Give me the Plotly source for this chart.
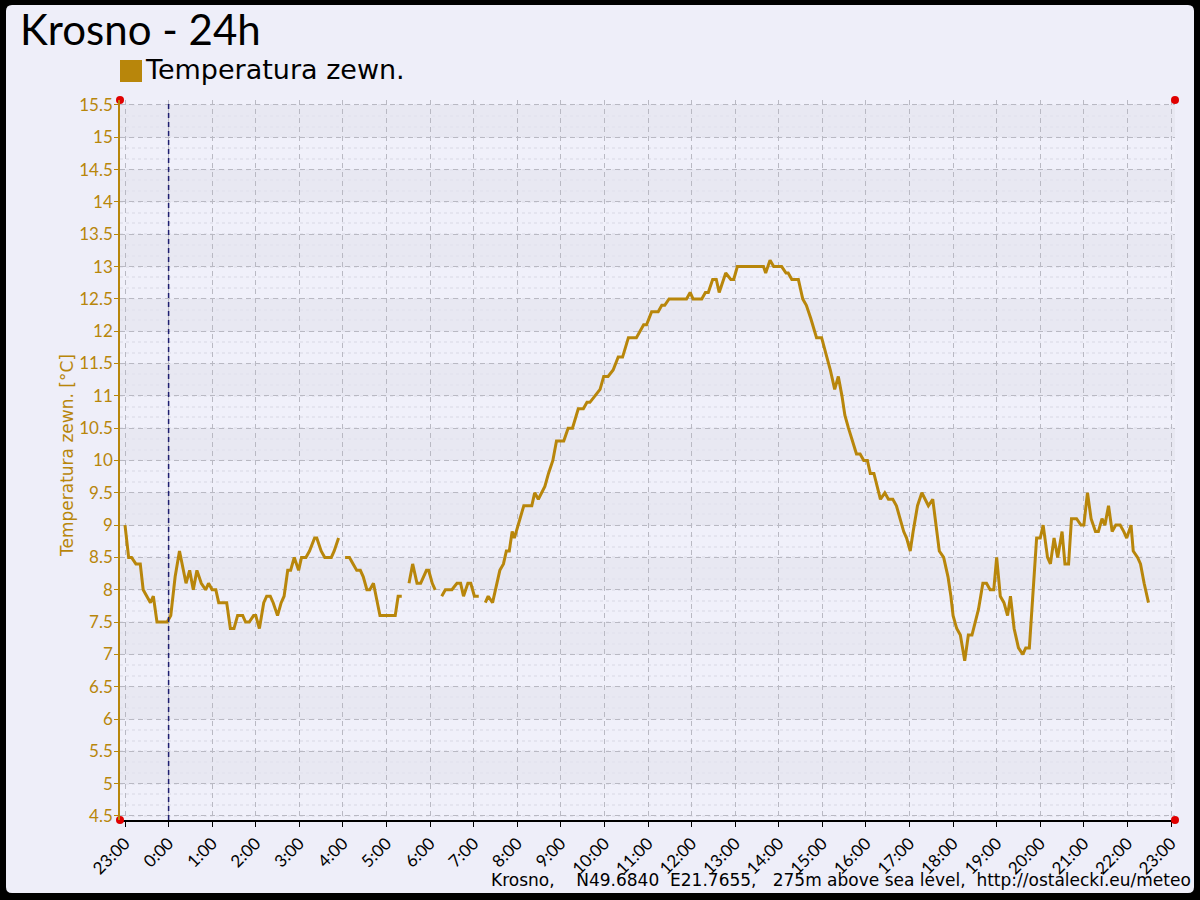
import plotly.graph_objects as go
from datetime import datetime, timedelta

TITLE = "Krosno - 24h"
SERIES_NAME = "Temperatura zewn."
Y_TITLE = "Temperatura zewn. [°C]"
FOOTER = "Krosno,    N49.6840  E21.7655,   275m above sea level,  http://ostalecki.eu/meteo"

# readings: clock time and outside temperature (None = missing data / gap)
times = [
    "23:00", "23:05", "23:09", "23:15", "23:21", "23:25", "23:30", "23:35", "23:39", "23:44",
    "23:58", "0:03", "0:09", "0:15", "0:24", "0:29", "0:34", "0:39", "0:45", "0:51",
    "0:55", "1:00", "1:05", "1:09", "1:20", "1:25", "1:30", "1:35", "1:42", "1:46",
    "1:51", "1:57", "2:00", "2:05", "2:11", "2:15", "2:20", "2:24", "2:30", "2:35",
    "2:39", "2:44", "2:48", "2:53", "2:59", "3:03", "3:09", "3:14", "3:21", "3:24",
    "3:30", "3:35", "3:44", "3:48", "3:54", "3:58", "4:03", "4:09", "4:14", "4:19",
    "4:24", "4:28", "4:33", "4:37", "4:42", "4:51", "5:12", "5:16", "5:21", "5:26",
    "5:31", "5:36", "5:42", "5:47", "5:55", "5:58", "6:03", "6:07", "6:12", "6:16",
    "6:21", "6:30", "6:37", "6:42", "6:46", "6:52", "6:56", "7:01", "7:07", "7:12",
    "7:16", "7:20", "7:26", "7:32", "7:36", "7:41", "7:45", "7:49", "7:53", "7:56",
    "8:04", "8:09", "8:20", "8:24", "8:29", "8:38", "8:43", "8:49", "8:54", "9:04",
    "9:10", "9:16", "9:24", "9:31", "9:36", "9:40", "9:47", "9:54", "9:59", "10:05",
    "10:12", "10:19", "10:25", "10:33", "10:44", "10:54", "10:58", "11:05", "11:14", "11:19",
    "11:23", "11:29", "11:53", "11:58", "12:02", "12:14", "12:19", "12:23", "12:29", "12:34",
    "12:38", "12:47", "12:54", "12:58", "13:03", "13:39", "13:42", "13:48", "13:53", "14:04",
    "14:10", "14:13", "14:18", "14:27", "14:33", "14:38", "14:44", "14:52", "14:59", "15:04",
    "15:11", "15:17", "15:22", "15:27", "15:31", "15:36", "15:42", "15:47", "15:52", "15:57",
    "16:02", "16:06", "16:11", "16:16", "16:20", "16:26", "16:31", "16:37", "16:42", "16:47",
    "16:52", "16:56", "17:01", "17:05", "17:11", "17:17", "17:21", "17:26", "17:32", "17:35",
    "17:41", "17:47", "17:53", "17:57", "18:00", "18:05", "18:10", "18:16", "18:21", "18:26",
    "18:30", "18:35", "18:41", "18:46", "18:51", "18:56", "19:00", "19:05", "19:10", "19:15",
    "19:19", "19:24", "19:30", "19:36", "19:40", "19:45", "19:55", "20:00", "20:04", "20:10",
    "20:14", "20:19", "20:24", "20:30", "20:34", "20:39", "20:43", "20:50", "20:56", "21:00",
    "21:05", "21:10", "21:16", "21:20", "21:25", "21:29", "21:34", "21:39", "21:44", "21:50",
    "21:55", "21:59", "22:05", "22:08", "22:14", "22:18", "22:23", "22:29",
]
temps = [
    9.0, 8.5, 8.5, 8.4, 8.4, 8.0, 7.9, 7.8, 7.9, 7.5,
    7.5, 7.6, 8.2, 8.6, 8.1, 8.3, 8.0, 8.3, 8.1, 8.0,
    8.1, 8.0, 8.0, 7.8, 7.8, 7.4, 7.4, 7.6, 7.6, 7.5,
    7.5, 7.6, 7.6, 7.4, 7.8, 7.9, 7.9, 7.8, 7.6, 7.8,
    7.9, 8.3, 8.3, 8.5, 8.3, 8.5, 8.5, 8.6, 8.8, 8.8,
    8.6, 8.5, 8.5, 8.6, 8.8, None, 8.5, 8.5, 8.4, 8.3,
    8.3, 8.2, 8.0, 8.0, 8.1, 7.6, 7.6, 7.9, 7.9, None,
    8.1, 8.4, 8.1, 8.1, 8.3, 8.3, 8.1, 8.0, None, 7.9,
    8.0, 8.0, 8.1, 8.1, 7.9, 8.1, 8.1, 7.9, 7.9, None,
    7.8, 7.9, 7.8, 8.1, 8.3, 8.4, 8.6, 8.6, 8.9, 8.8,
    9.1, 9.3, 9.3, 9.5, 9.4, 9.6, 9.8, 10.0, 10.3, 10.3,
    10.5, 10.5, 10.8, 10.8, 10.9, 10.9, 11.0, 11.1, 11.3, 11.3,
    11.4, 11.6, 11.6, 11.9, 11.9, 12.1, 12.1, 12.3, 12.3, 12.4,
    12.4, 12.5, 12.5, 12.6, 12.5, 12.5, 12.6, 12.6, 12.8, 12.8,
    12.6, 12.9, 12.8, 12.8, 13.0, 13.0, 12.9, 13.1, 13.0, 13.0,
    12.9, 12.9, 12.8, 12.8, 12.5, 12.4, 12.2, 11.9, 11.9, 11.7,
    11.4, 11.1, 11.3, 11.0, 10.7, 10.5, 10.3, 10.1, 10.1, 10.0,
    10.0, 9.8, 9.8, 9.6, 9.4, 9.5, 9.4, 9.4, 9.3, 9.1,
    8.9, 8.8, 8.6, 8.9, 9.3, 9.5, 9.4, 9.3, 9.4, 9.1,
    8.6, 8.5, 8.2, 7.9, 7.6, 7.4, 7.3, 6.9, 7.3, 7.3,
    7.5, 7.7, 8.1, 8.1, 8.0, 8.0, 8.5, 7.9, 7.8, 7.6,
    7.9, 7.4, 7.1, 7.0, 7.1, 7.1, 8.8, 8.8, 9.0, 8.5,
    8.4, 8.8, 8.5, 8.9, 8.4, 8.4, 9.1, 9.1, 9.0, 9.0,
    9.5, 9.1, 8.9, 8.9, 9.1, 9.0, 9.3, 8.9, 9.0, 9.0,
    8.9, 8.8, 9.0, 8.6, 8.5, 8.4, 8.1, 7.8,
]

y_tick_values = [4.5, 5.0, 5.5, 6.0, 6.5, 7.0, 7.5, 8.0, 8.5, 9.0, 9.5, 10.0,
                 10.5, 11.0, 11.5, 12.0, 12.5, 13.0, 13.5, 14.0, 14.5, 15.0, 15.5]
y_tick_labels = ["4.5", "5", "5.5", "6", "6.5", "7", "7.5", "8", "8.5", "9", "9.5", "10",
                 "10.5", "11", "11.5", "12", "12.5", "13", "13.5", "14", "14.5", "15", "15.5"]
x_tick_labels = ["23:00", "0:00", "1:00", "2:00", "3:00", "4:00", "5:00", "6:00", "7:00",
                 "8:00", "9:00", "10:00", "11:00", "12:00", "13:00", "14:00", "15:00",
                 "16:00", "17:00", "18:00", "19:00", "20:00", "21:00", "22:00", "23:00"]

# ---------------------------------------------------------------- helpers
FONT = "Lato, 'Open Sans', sans-serif"
FONT_WIDE = "'DejaVu Sans', Verdana, sans-serif"
GOLD = "#B8860B"
PAGE_BG = "#EEEEF9"
BAND_DARK = "#E8E8F2"
BAND_LIGHT = "#F0F0FA"
W, H = 1200, 900
ML, MR, MT, MB = 120, 25, 100, 80
PW, PH = W - ML - MR, H - MT - MB

day0 = datetime(2024, 1, 1)
start = day0.replace(hour=23)


def to_dt(s):
    h, m = map(int, s.split(":"))
    d = day0 if h == 23 else day0 + timedelta(days=1)
    return d.replace(hour=h, minute=m)


xs = [to_dt(t) for t in times]
tick_pos = [start + timedelta(hours=i) for i in range(len(x_tick_labels))]
midnight = day0 + timedelta(days=1)

x_range = [start - timedelta(minutes=6.9), start + timedelta(hours=24, minutes=5.5)]
y_range = [4.438, 15.577]


def X(px):
    return (px - ML) / PW


def Y(py):
    return (MT + PH - py) / PH


fig = go.Figure()

fig.add_trace(go.Scatter(
    x=xs, y=temps, mode="lines", name=SERIES_NAME, connectgaps=False,
    line=dict(color=GOLD, width=3), showlegend=False,
    hovertemplate="%{x|%H:%M}  %{y} °C<extra></extra>",
))

# red dots at the plot-area corners
fig.add_trace(go.Scatter(
    x=[x_range[0], x_range[1], x_range[0], x_range[1]],
    y=[y_range[1], y_range[1], y_range[0], y_range[0]],
    mode="markers", marker=dict(color="#E00000", size=8),
    cliponaxis=False, showlegend=False, hoverinfo="skip",
))

shapes = []
# rounded page panel on black frame
r = 6
l_, rt, t_, b_ = 6, 1194, 5, 893
path = (f"M {X(l_ + r)},{Y(t_)} L {X(rt - r)},{Y(t_)} Q {X(rt)},{Y(t_)} {X(rt)},{Y(t_ + r)} "
        f"L {X(rt)},{Y(b_ - r)} Q {X(rt)},{Y(b_)} {X(rt - r)},{Y(b_)} "
        f"L {X(l_ + r)},{Y(b_)} Q {X(l_)},{Y(b_)} {X(l_)},{Y(b_ - r)} "
        f"L {X(l_)},{Y(t_ + r)} Q {X(l_)},{Y(t_)} {X(l_ + r)},{Y(t_)} Z")
shapes.append(dict(type="path", xref="paper", yref="paper", path=path,
                   fillcolor=PAGE_BG, line=dict(width=0), layer="below"))
# plot background and alternating bands
shapes.append(dict(type="rect", xref="x", yref="y", x0=x_range[0], x1=x_range[1],
                   y0=y_range[0], y1=y_range[1], fillcolor=BAND_LIGHT,
                   line=dict(width=0), layer="below"))
for i in range(len(y_tick_values) - 1):
    if (len(y_tick_values) - 2 - i) % 2 == 0:
        shapes.append(dict(type="rect", xref="x", yref="y", x0=x_range[0], x1=x_range[1],
                           y0=y_tick_values[i], y1=y_tick_values[i + 1],
                           fillcolor=BAND_DARK, line=dict(width=0), layer="below"))
# midnight marker
shapes.append(dict(type="line", xref="x", yref="paper", x0=midnight, x1=midnight,
                   y0=0, y1=1, line=dict(color="#1E1E70", width=1.5, dash="5px,4px"),
                   layer="above"))
# legend swatch
shapes.append(dict(type="rect", xref="paper", yref="paper", x0=X(120), x1=X(142),
                   y0=Y(82), y1=Y(60), fillcolor=GOLD, line=dict(width=0)))

annotations = [
    dict(text=TITLE, xref="paper", yref="paper", x=X(18), y=Y(29), xanchor="left",
         yanchor="middle", showarrow=False, font=dict(family=FONT, size=42, color="black")),
    dict(text=SERIES_NAME, xref="paper", yref="paper", x=X(143), y=Y(70), xanchor="left",
         yanchor="middle", showarrow=False, font=dict(family=FONT_WIDE, size=27, color="black")),
    dict(text=FOOTER.replace(" ", "\u00a0"), xref="paper", yref="paper", x=X(1193), y=Y(880),
         xanchor="right", yanchor="middle", showarrow=False,
         font=dict(family=FONT_WIDE, size=17, color="black")),
    dict(text=Y_TITLE, xref="paper", yref="paper", x=X(67), y=Y(456), xanchor="center",
         yanchor="middle", textangle=-90, showarrow=False,
         font=dict(family=FONT_WIDE, size=17, color=GOLD)),
]

fig.update_layout(
    width=W, height=H,
    margin=dict(l=ML, r=MR, t=MT, b=MB, autoexpand=False),
    paper_bgcolor="black", plot_bgcolor=BAND_LIGHT,
    font=dict(family=FONT, color="black"),
    shapes=shapes, annotations=annotations, showlegend=False,
    xaxis=dict(
        type="date", range=x_range, tickmode="array", tickvals=tick_pos, ticktext=x_tick_labels,
        tickangle=-45, tickfont=dict(family=FONT, size=17, color="black"),
        showline=True, linecolor="black", linewidth=1.5,
        ticks="outside", ticklen=5, tickcolor="black",
        showgrid=True, gridcolor="#B9B9C3", griddash="5px,4px", gridwidth=1,
        zeroline=False, layer="below traces",
    ),
    yaxis=dict(
        range=y_range, tickmode="array", tickvals=y_tick_values, ticktext=y_tick_labels,
        tickfont=dict(family=FONT, size=17, color=GOLD),
        showline=True, linecolor=GOLD, linewidth=1.5,
        ticks="outside", ticklen=4, tickcolor=GOLD, ticklabelstandoff=-2,
        showgrid=True, gridcolor="#B9B9C3", griddash="5px,4px", gridwidth=1,
        zeroline=False,
        minor=dict(dtick=0.5 / 3, showgrid=True, gridcolor="#E4E4EF", griddash="dot",
                   gridwidth=2, ticks=""),
    ),
)

fig.write_html(
    "out.html",
    config={"displayModeBar": False},
    post_script="document.body.style.margin='0';document.body.style.overflow='hidden';",
)
